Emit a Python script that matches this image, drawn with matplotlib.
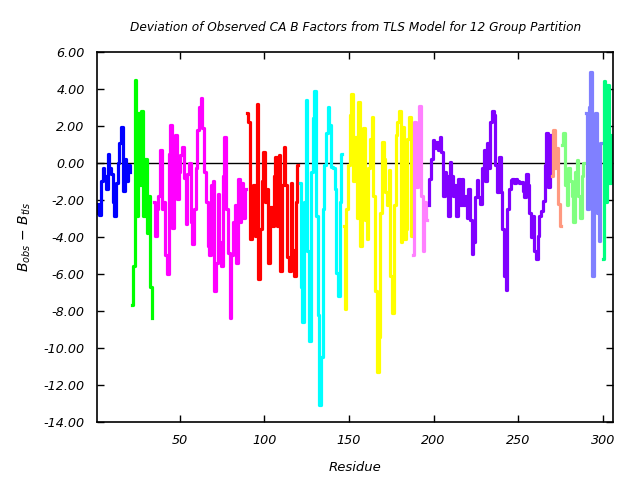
import numpy as np
import matplotlib
matplotlib.use("Agg")
import matplotlib.pyplot as plt

plt.rcParams['mathtext.fontset'] = 'dejavusans'

# TLS groups: first residue, colour, deviation values (one per residue)
starts = [1, 22, 35, 90, 121, 147, 188, 197, 270, 276, 290, 300]
colors = ['#0000ff', '#00ff00', '#ff00ff', '#ff0000', '#00ffff', '#ffff00',
          '#ff80ff', '#8000ff', '#ff9980', '#80ff80', '#8080ff', '#00ff80']

g1 = [-2.7, -2.2, -2.8, -1.0, -0.3, -0.7, -1.4, 0.5, -0.3, -0.6, -2.1, -2.85,
      -1.1, 0.0, 1.05, 1.96, -1.5, 0.2, -1.0, -0.1, -0.5]
g2 = [-7.7, -5.6, 4.5, -2.85, 2.7, -1.2, 2.8, -2.85, 0.2, -3.8, -1.8, -6.7, -8.4]
g3 = [-2.1, -3.95, -2.5, -1.8, 0.7, -2.5, -2.1, -5.0, -6.0, 0.5, 2.05, -3.5,
      0.6, 1.5, -1.95, -0.5, 0.4, 0.87, -0.8, -3.3, -0.6, 0.0, -3.2, -4.4,
      -2.5, -0.3, 1.8, 3.0, 3.5, 1.9, -0.5, -2.1, -4.5, -5.0, -1.2, -1.0,
      -6.9, -5.4, -1.7, -4.3, -5.6, -0.7, 1.4, -2.5, -4.85, -8.4, -5.0, -3.2,
      -2.3, -5.4, -0.85, -3.2, -1.1, -3.0, -1.4]
g4 = [2.7, 2.2, -4.1, -3.4, -1.2, -3.95, 3.2, -6.3, -3.6, -1.0, 0.6, -2.1,
      -1.4, -5.4, -2.4, -3.4, -0.7, 0.3, -3.4, 0.4, -5.85, -1.2, 0.87, -1.2,
      -5.1, -5.85, -1.1, -4.7, -6.1, -2.1, -0.1]
g5 = [-1.1, -6.7, -8.6, -2.1, 3.4, -4.75, -9.6, -0.5, 2.4, 3.9, -2.85, -8.2,
      -13.1, -10.5, -2.5, -0.1, 1.6, 3.0, 2.05, -0.2, -0.3, -1.4, -5.95, -7.2,
      -2.1, 0.5]
g6 = [-3.4, -7.9, -2.5, -0.1, 2.6, 3.7, -1.0, 1.4, -3.0, 3.3, -4.5, 0.87,
      1.9, -3.1, -4.1, -0.3, 1.3, 2.5, -1.8, -6.9, -11.3, -9.4, -2.7, 1.15,
      0.2, -1.6, -2.3, -0.4, -6.1, -8.1, -2.3, 1.5, 2.2, 2.8, -4.3, 1.96,
      -4.1, -3.6, 1.3, 2.5, -3.95]
g7 = [-5.0, 2.2, -1.3, 1.6, 3.1, -1.8, -4.75, -2.1, -3.1]
g8 = [-2.3, -0.85, 0.2, 1.25, 0.8, 1.15, 0.7, 1.4, 0.6, -1.8, -0.5, -0.7,
      -2.85, 0.05, -0.7, -1.8, -1.2, -2.85, -0.85, -2.3, -0.85, -2.3, -1.8,
      -3.0, -1.4, -3.1, -4.9, -4.3, -1.85, -0.95, -1.85, -2.2, -0.3, 0.7,
      -1.0, 1.05, -0.3, 2.2, 2.8, 2.6, -0.1, -1.6, 0.3, -1.6, -3.6, -6.1,
      -6.85, -2.5, -1.4, -0.95, -0.85, -1.1, -0.85, -1.0, -1.1, -1.05, -1.5,
      -1.85, -0.6, -1.2, -2.7, -4.0, -2.85, -4.75, -5.2, -3.95, -2.85, -2.6,
      -2.05, -0.1, 1.6, -1.3, 1.5]
g9 = [-0.7, 1.8, -0.3, 0.8, -2.2, -3.4]
g10 = [0.96, 1.6, -1.2, -2.3, -0.3, -1.0, -1.8, -3.2, -0.5, 0.15, -1.8, -3.0,
       -0.7, 0.0]
g11 = [2.7, -2.5, 3.0, 4.9, -6.1, -0.3, 2.7, -2.7, -4.2, 1.05]
g12 = [-5.2, 4.4, -2.1, 4.2, -1.1, 1.5, -0.6]
groups = [g1, g2, g3, g4, g5, g6, g7, g8, g9, g10, g11, g12]

fig = plt.figure(figsize=(6.4, 4.8), dpi=100)
ax = fig.add_axes([0.152, 0.121, 0.806, 0.771])

ax.axhline(0, color='black', lw=1.0, zorder=1)
for s, c, vals in zip(starts, colors, groups):
    x = np.arange(s, s + len(vals))
    ax.plot(x, vals, color=c, lw=2.3, drawstyle='steps-mid', zorder=2)

ax.set_xlim(1.4, 306)
ax.set_ylim(-14, 6)
ax.set_xticks([50, 100, 150, 200, 250, 300])
ax.set_yticks(np.arange(-14, 7, 2))
ax.yaxis.set_major_formatter(matplotlib.ticker.FormatStrFormatter('%.2f'))
ax.tick_params(direction='in', length=5, width=1, top=True, right=True,
               labelsize=9.2, pad=9)
for lab in ax.get_xticklabels() + ax.get_yticklabels():
    lab.set_fontstyle('italic')
for sp in ax.spines.values():
    sp.set_linewidth(1.2)

ax.set_title('Deviation of Observed CA B Factors from TLS Model for 12 Group Partition',
             fontsize=8.7, style='italic', pad=15)
ax.set_xlabel('Residue', fontsize=9.5, style='italic', labelpad=10)
ax.set_ylabel(r'$B_{obs}$ $-$ $B_{tls}$', fontsize=10, labelpad=8)

fig.savefig('out.png', dpi=100)
